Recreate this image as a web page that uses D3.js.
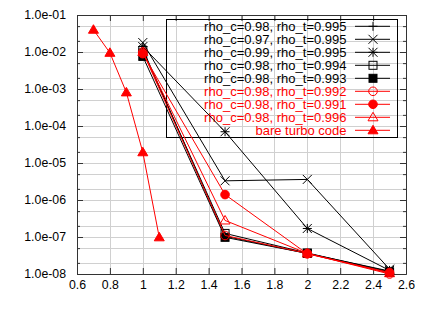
<!DOCTYPE html>
<html><head><meta charset="utf-8">
<script src="https://cdn.jsdelivr.net/npm/d3@7"></script>
<style>body{margin:0;background:#fff}svg{display:block;font-family:"Liberation Sans",Arial,sans-serif}</style>
</head><body>
<script>
const xTicks = [0.6, 0.8, 1.0, 1.2, 1.4, 1.6, 1.8, 2.0, 2.2, 2.4, 2.6];
const xTickLabels = ["0.6","0.8","1","1.2","1.4","1.6","1.8","2","2.2","2.4","2.6"];
const yTicks = [1e-1,1e-2,1e-3,1e-4,1e-5,1e-6,1e-7,1e-8];
const yTickLabels = ["1.0e-01","1.0e-02","1.0e-03","1.0e-04","1.0e-05","1.0e-06","1.0e-07","1.0e-08"];
const snr = [1.0, 1.5, 2.0, 2.5];
const bareSnr = [0.7, 0.8, 0.9, 1.0, 1.1];
const seriesNames = ["rho_c=0.98, rho_t=0.995","rho_c=0.97, rho_t=0.995","rho_c=0.99, rho_t=0.995","rho_c=0.98, rho_t=0.994","rho_c=0.98, rho_t=0.993","rho_c=0.98, rho_t=0.992","rho_c=0.98, rho_t=0.991","rho_c=0.98, rho_t=0.996","bare turbo code"];
const s_c098_t0995 = [1.2e-2, 1.05e-7, 3.6e-8, 1.2e-8];
const s_c097_t0995 = [1.8e-2, 3.3e-6, 3.6e-6, 1.35e-8];
const s_c099_t0995 = [1.4e-2, 7e-5, 1.7e-7, 1.25e-8];
const s_c098_t0994 = [1.1e-2, 1.25e-7, 3.7e-8, 1.15e-8];
const s_c098_t0993 = [7.6e-3, 9.8e-8, 3.6e-8, 1.1e-8];
const s_c098_t0992 = [1.0e-2, 1.1e-7, 3.6e-8, 1.0e-8];
const s_c098_t0991 = [9.0e-3, 1.4e-6, 3.5e-8, 1.1e-8];
const s_c098_t0996 = [1.0e-2, 2.8e-7, 3.6e-8, 1.05e-8];
const bareTurbo = [4.0e-2, 9.5e-3, 8.1e-4, 1.95e-5, 9.8e-8];

const series = [
  {name:seriesNames[0], xs:snr, ys:s_c098_t0995, color:"#000", marker:"plus"},
  {name:seriesNames[1], xs:snr, ys:s_c097_t0995, color:"#000", marker:"cross"},
  {name:seriesNames[2], xs:snr, ys:s_c099_t0995, color:"#000", marker:"star"},
  {name:seriesNames[3], xs:snr, ys:s_c098_t0994, color:"#000", marker:"osquare"},
  {name:seriesNames[4], xs:snr, ys:s_c098_t0993, color:"#000", marker:"fsquare"},
  {name:seriesNames[5], xs:snr, ys:s_c098_t0992, color:"#ff0000", marker:"ocircle"},
  {name:seriesNames[6], xs:snr, ys:s_c098_t0991, color:"#ff0000", marker:"fcircle"},
  {name:seriesNames[7], xs:snr, ys:s_c098_t0996, color:"#ff0000", marker:"otri"},
  {name:seriesNames[8], xs:bareSnr, ys:bareTurbo, color:"#ff0000", marker:"ftri"}
];

const W=429,H=310, L=77, R=406, T=15, B=274;
const svg=d3.select("body").append("svg").attr("width",W).attr("height",H);
const x=d3.scaleLinear().domain([0.6,2.6]).range([L,R]);
const y=d3.scaleLog().domain([1e-8,1e-1]).range([B,T]);

// grid
const minorVals=[];
yTicks.forEach(v=>{ if(v>1e-8){ minorVals.push(v*0.5, v*0.2);} });
const g=svg.append("g");
g.selectAll(".gy").data(yTicks.concat(minorVals)).enter().append("line")
 .attr("x1",L).attr("x2",R).attr("y1",d=>Math.round(y(d))+0.5).attr("y2",d=>Math.round(y(d))+0.5)
 .attr("stroke","#d0d0d0").attr("stroke-width",1);
g.selectAll(".gx").data(xTicks).enter().append("line")
 .attr("y1",T).attr("y2",B).attr("x1",d=>Math.round(x(d))+0.5).attr("x2",d=>Math.round(x(d))+0.5)
 .attr("stroke","#d0d0d0").attr("stroke-width",1);

const axL=d3.axisLeft(y).tickValues(yTicks).tickFormat((d,i)=>yTickLabels[i]).tickSizeInner(-6).tickSizeOuter(0).tickPadding(11);
const axB=d3.axisBottom(x).tickValues(xTicks).tickFormat((d,i)=>xTickLabels[i]).tickSizeInner(-6).tickSizeOuter(0).tickPadding(6);
const axR=d3.axisRight(y).tickValues(yTicks).tickFormat("").tickSizeInner(-6).tickSizeOuter(0);
const axT=d3.axisTop(x).tickValues(xTicks).tickFormat("").tickSizeInner(-6).tickSizeOuter(0);
const axLm=d3.axisLeft(y).tickValues(minorVals).tickFormat("").tickSizeInner(-3).tickSizeOuter(0);
const axRm=d3.axisRight(y).tickValues(minorVals).tickFormat("").tickSizeInner(-3).tickSizeOuter(0);
function styleAx(sel){sel.selectAll("path").attr("stroke","#333");sel.selectAll("line").attr("stroke","#333");sel.selectAll("text").attr("fill","#000").style("font-size","12.3px").style("font-family","Liberation Sans, Arial, sans-serif");}
styleAx(svg.append("g").attr("transform",`translate(${L},0)`).call(axL));
styleAx(svg.append("g").attr("transform",`translate(0,${B})`).call(axB));
styleAx(svg.append("g").attr("transform",`translate(${R},0)`).call(axR));
styleAx(svg.append("g").attr("transform",`translate(0,${T})`).call(axT));
styleAx(svg.append("g").attr("transform",`translate(${L},0)`).call(axLm));
styleAx(svg.append("g").attr("transform",`translate(${R},0)`).call(axRm));

function drawMarker(sel,m,cx,cy,color){
  const s=4.5;
  if(m==="plus"){
    sel.append("path").attr("d",`M${cx-s},${cy}H${cx+s}M${cx},${cy-s}V${cy+s}`).attr("stroke",color).attr("stroke-width",1).attr("fill","none");
  } else if(m==="cross"){
    sel.append("path").attr("d",`M${cx-s},${cy-s}L${cx+s},${cy+s}M${cx-s},${cy+s}L${cx+s},${cy-s}`).attr("stroke",color).attr("stroke-width",1).attr("fill","none");
  } else if(m==="star"){
    sel.append("path").attr("d",`M${cx-s},${cy}H${cx+s}M${cx},${cy-s}V${cy+s}M${cx-s},${cy-s}L${cx+s},${cy+s}M${cx-s},${cy+s}L${cx+s},${cy-s}`).attr("stroke",color).attr("stroke-width",1).attr("fill","none");
  } else if(m==="osquare"||m==="fsquare"){
    const q=4;
    sel.append("rect").attr("x",cx-q).attr("y",cy-q).attr("width",2*q).attr("height",2*q)
      .attr("fill",m==="fsquare"?color:"none").attr("stroke",color).attr("stroke-width",1);
  } else if(m==="ocircle"||m==="fcircle"){
    sel.append("circle").attr("cx",cx).attr("cy",cy).attr("r",4.3)
      .attr("fill",m==="fcircle"?color:"none").attr("stroke",color).attr("stroke-width",1);
  } else if(m==="otri"||m==="ftri"){
    const t=5;
    sel.append("path").attr("d",`M${cx},${cy-t}L${cx+t},${cy+t*0.7}L${cx-t},${cy+t*0.7}Z`)
      .attr("fill",m==="ftri"?color:"none").attr("stroke",color).attr("stroke-width",1);
  }
}

// legend (transparent, drawn under data)
const lg=svg.append("g");
lg.append("rect").attr("x",166.5).attr("y",19.5).attr("width",231).attr("height",118).attr("fill","none").attr("stroke","#000").attr("stroke-width",1);
series.forEach((s,i)=>{
  const cy=26.3+i*13;
  lg.append("text").attr("x",346.5).attr("y",cy).attr("dy","0.36em").attr("text-anchor","end")
    .attr("fill",s.color).style("font-size","13px").text(s.name);
  lg.append("line").attr("x1",355).attr("x2",390).attr("y1",cy).attr("y2",cy).attr("stroke",s.color).attr("stroke-width",1);
  drawMarker(lg,s.marker,373,cy,s.color);
});

const line=d3.line().x(d=>x(d[0])).y(d=>y(d[1]));
const plot=svg.append("g");
series.forEach(s=>{
  const pts=s.xs.map((v,i)=>[v,s.ys[i]]);
  plot.append("path").attr("d",line(pts)).attr("fill","none").attr("stroke",s.color).attr("stroke-width",1);
  pts.forEach(p=>drawMarker(plot,s.marker,x(p[0]),y(p[1]),s.color));
});
</script>
</body></html>
